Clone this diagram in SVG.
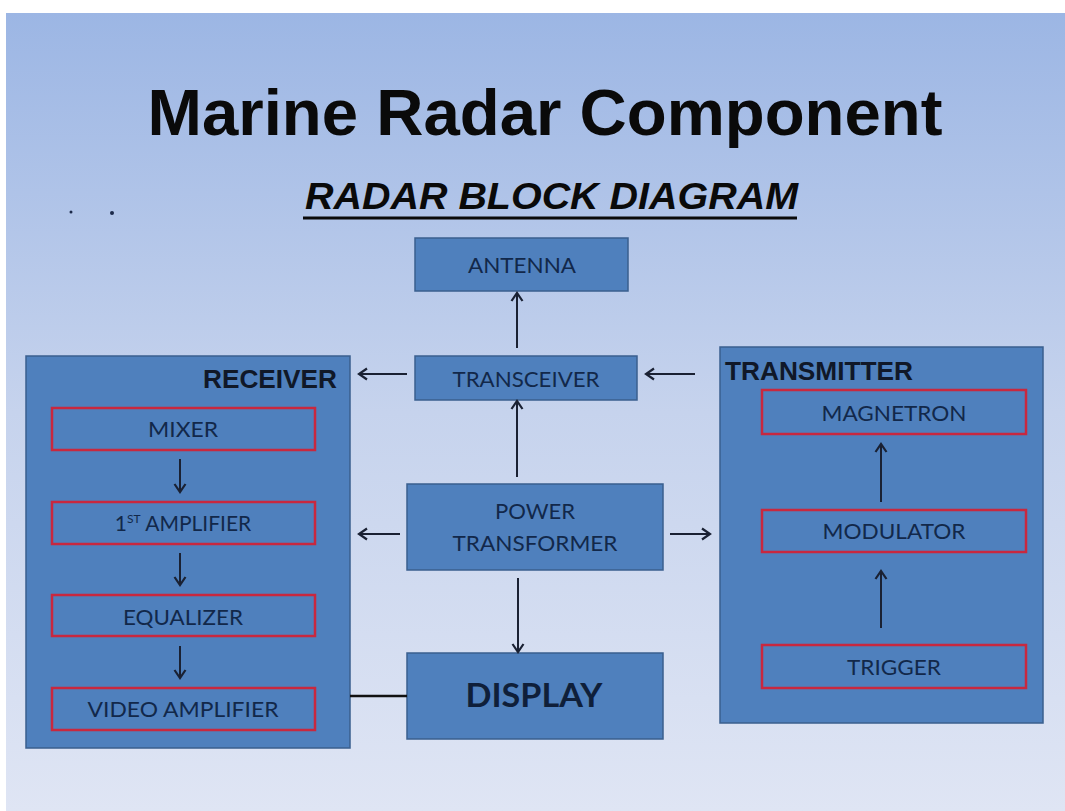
<svg xmlns="http://www.w3.org/2000/svg" width="1065" height="811" viewBox="0 0 1065 811">
<defs>
<linearGradient id="bg" x1="0" y1="0" x2="0" y2="1">
<stop offset="0" stop-color="#9cb6e4"/>
<stop offset="0.5" stop-color="#c6d3ed"/>
<stop offset="1" stop-color="#dfe5f4"/>
</linearGradient>
<marker id="ah" viewBox="0 0 14 14" refX="12" refY="7" markerWidth="14" markerHeight="14" markerUnits="userSpaceOnUse" orient="auto">
<path d="M4,1.5 L12,7 L4,12.5" fill="none" stroke="#1a2133" stroke-width="2.2"/>
</marker>
</defs>
<style>
.blk{fill:#4f80bd;stroke:#3a5f8e;stroke-width:1.5}
.red{fill:none;stroke:#c8283f;stroke-width:2.5}
.lbl{font-family:Lato,"Open Sans",sans-serif;font-size:21px;fill:#12284a;text-anchor:middle}
.big{font-family:Lato,"Open Sans",sans-serif;font-size:33px;font-weight:bold;fill:#0f1f3a;text-anchor:middle}
.hdr{font-family:"Liberation Sans",Arial,sans-serif;font-weight:bold;font-size:25px;fill:#101828}
.arr{stroke:#1a2133;stroke-width:2;fill:none;marker-end:url(#ah)}
</style>
<rect x="6" y="13" width="1059" height="798" fill="url(#bg)"/>
<circle cx="71" cy="212" r="1.5" fill="#1c2a4a"/>
<circle cx="112" cy="213" r="2" fill="#1c2a4a"/>
<text x="545" y="135" font-family="'Liberation Sans',Arial,sans-serif" font-weight="bold" font-size="65" text-anchor="middle" fill="#0a0a0a" textLength="795" lengthAdjust="spacingAndGlyphs">Marine Radar Component</text>
<text x="305" y="209" font-family="'Liberation Sans',Arial,sans-serif" font-weight="bold" font-style="italic" font-size="37" fill="#0a0a0a" textLength="493" lengthAdjust="spacingAndGlyphs">RADAR BLOCK DIAGRAM</text>
<rect x="303" y="216.5" width="494" height="3" fill="#0a0a0a"/>

<g id="receiver">
<rect class="blk" x="26" y="356" width="324" height="392"/>
<text class="hdr" x="337" y="388" text-anchor="end" textLength="134" lengthAdjust="spacingAndGlyphs">RECEIVER</text>
</g>
<g id="mixer"><rect class="red" x="52" y="408" width="263" height="42"/><text class="lbl" x="183" y="437" textLength="70" lengthAdjust="spacingAndGlyphs">MIXER</text></g>
<g id="amp1"><rect class="red" x="52" y="502" width="263" height="42"/><text class="lbl" x="183" y="531"><tspan>1</tspan><tspan font-size="12" dy="-8">ST</tspan><tspan dy="8"> AMPLIFIER</tspan></text></g>
<g id="equalizer"><rect class="red" x="52" y="595" width="263" height="41"/><text class="lbl" x="183" y="625" textLength="120" lengthAdjust="spacingAndGlyphs">EQUALIZER</text></g>
<g id="videoamp"><rect class="red" x="52" y="688" width="263" height="42"/><text class="lbl" x="183" y="717" textLength="191" lengthAdjust="spacingAndGlyphs">VIDEO AMPLIFIER</text></g>

<g id="transmitter">
<rect class="blk" x="720" y="347" width="323" height="376"/>
<text class="hdr" x="725" y="380" textLength="188" lengthAdjust="spacingAndGlyphs">TRANSMITTER</text>
</g>
<g id="magnetron"><rect class="red" x="762" y="390" width="264" height="44"/><text class="lbl" x="894" y="421" textLength="145" lengthAdjust="spacingAndGlyphs">MAGNETRON</text></g>
<g id="modulator"><rect class="red" x="762" y="510" width="264" height="42"/><text class="lbl" x="894" y="539" textLength="143" lengthAdjust="spacingAndGlyphs">MODULATOR</text></g>
<g id="trigger"><rect class="red" x="762" y="645" width="264" height="43"/><text class="lbl" x="894" y="675" textLength="94" lengthAdjust="spacingAndGlyphs">TRIGGER</text></g>

<g id="antenna"><rect class="blk" x="415" y="238" width="213" height="53"/><text class="lbl" x="522" y="273" textLength="108" lengthAdjust="spacingAndGlyphs">ANTENNA</text></g>
<g id="transceiver"><rect class="blk" x="415" y="356" width="222" height="44"/><text class="lbl" x="526" y="387" textLength="147" lengthAdjust="spacingAndGlyphs">TRANSCEIVER</text></g>
<g id="power"><rect class="blk" x="407" y="484" width="256" height="86"/><text class="lbl" x="535" y="519" textLength="80" lengthAdjust="spacingAndGlyphs">POWER</text><text class="lbl" x="535" y="551" textLength="165" lengthAdjust="spacingAndGlyphs">TRANSFORMER</text></g>
<g id="display"><rect class="blk" x="407" y="653" width="256" height="86"/><text class="big" x="534" y="707" textLength="137" lengthAdjust="spacingAndGlyphs">DISPLAY</text></g>

<g id="connectors">
<line class="arr" x1="180" y1="459" x2="180" y2="492"/>
<line class="arr" x1="180" y1="553" x2="180" y2="585"/>
<line class="arr" x1="180" y1="646" x2="180" y2="678"/>
<line class="arr" x1="881" y1="502" x2="881" y2="444"/>
<line class="arr" x1="881" y1="628" x2="881" y2="571"/>
<line class="arr" x1="517" y1="348" x2="517" y2="293"/>
<line class="arr" x1="517" y1="477" x2="517" y2="401"/>
<line class="arr" x1="518" y1="578" x2="518" y2="652"/>
<line class="arr" x1="407" y1="374" x2="359" y2="374"/>
<line class="arr" x1="695" y1="374" x2="646" y2="374"/>
<line class="arr" x1="400" y1="534" x2="359" y2="534"/>
<line class="arr" x1="670" y1="534" x2="710" y2="534"/>
<line x1="350" y1="696" x2="407" y2="696" stroke="#111" stroke-width="2.5"/>
</g>
</svg>
